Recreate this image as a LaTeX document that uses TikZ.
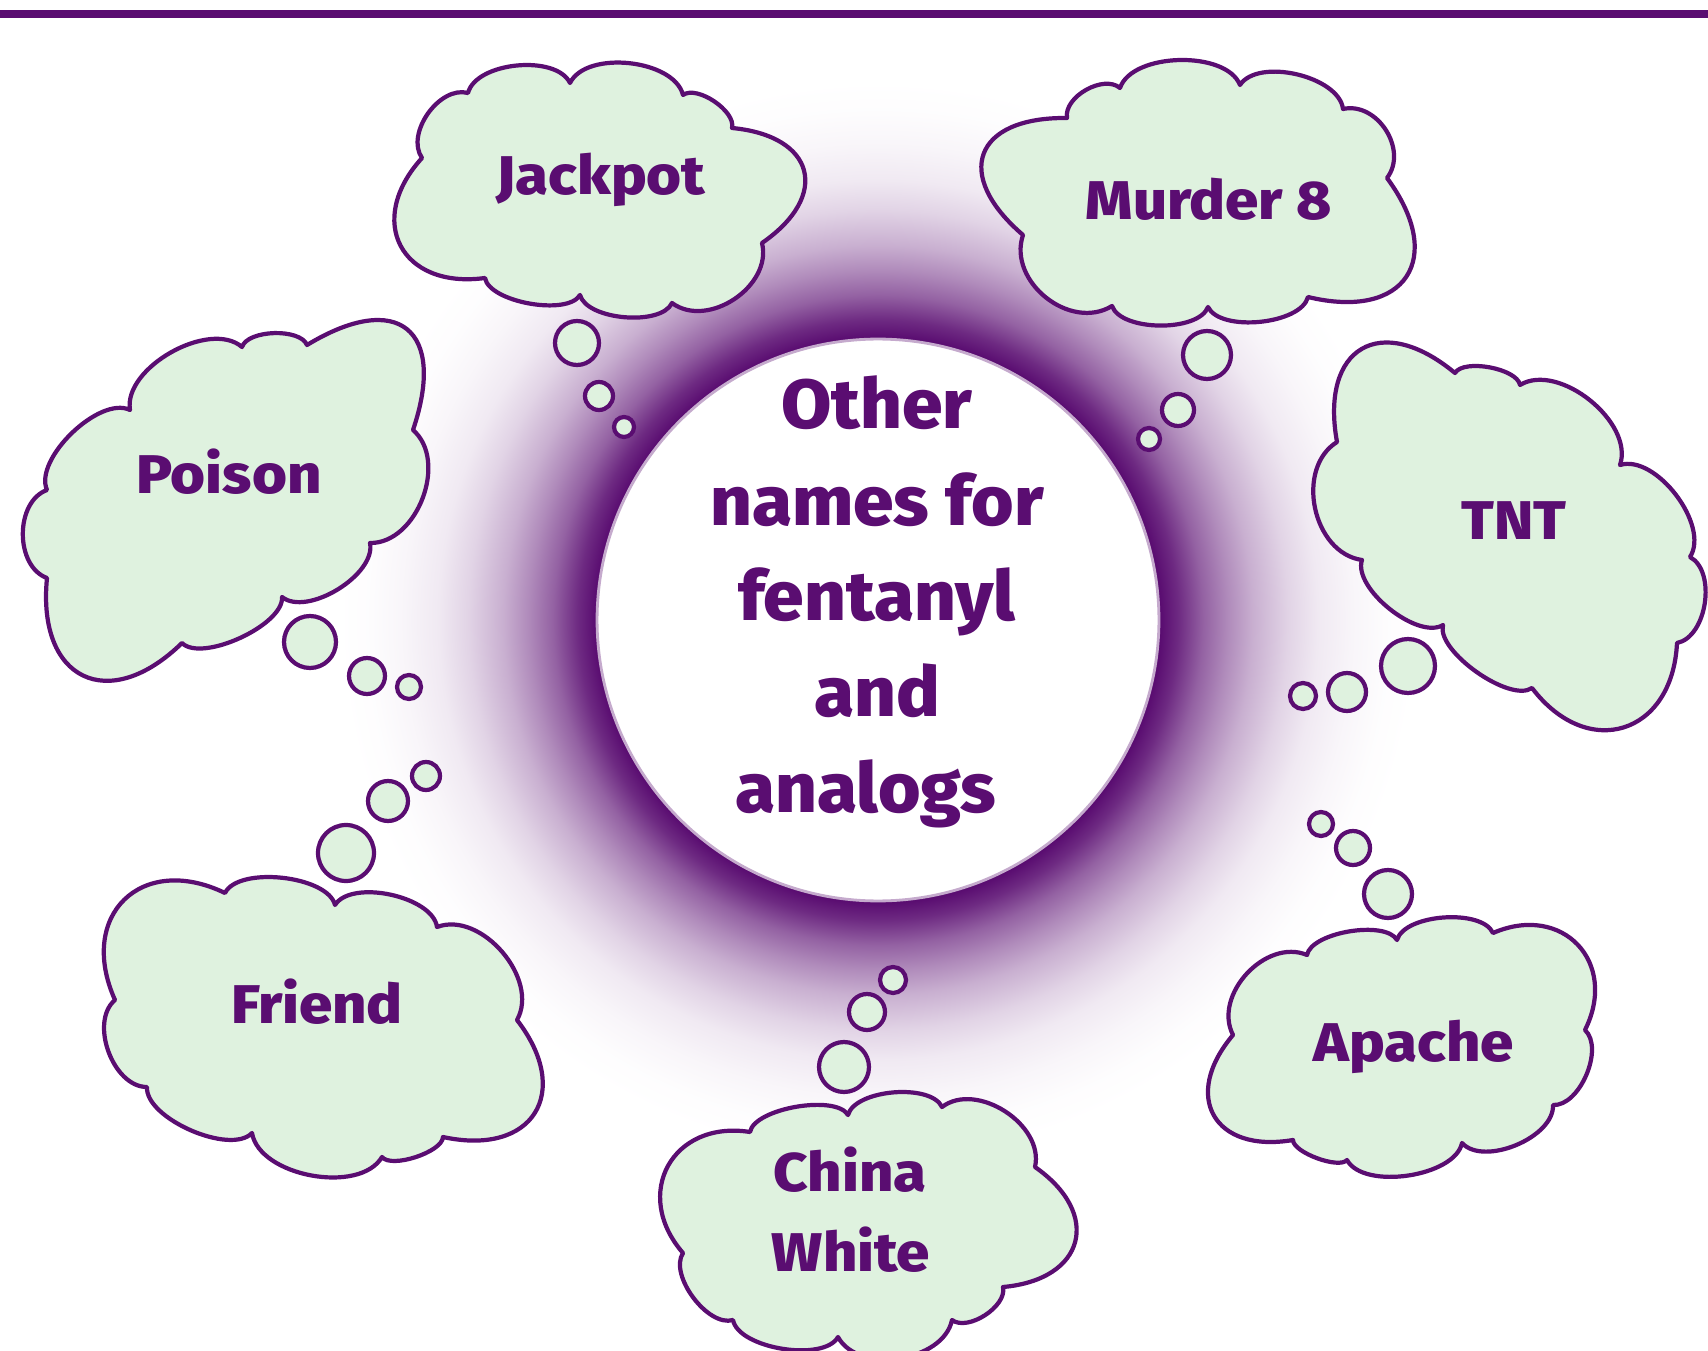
\documentclass[tikz,border=0pt]{standalone}
\usepackage{fontspec}
\setmainfont{Fira Sans}[BoldFont={Fira Sans ExtraBold}]
\newfontfamily\cloudfont{Fira Sans ExtraBold}[FakeStretch=1.1]
\newfontfamily\titlefont{Fira Sans ExtraBold}[FakeStretch=1.05]
\definecolor{fpurple}{RGB}{90,13,113}
\definecolor{cloudgreen}{RGB}{223,242,223}
% purple halo around the central disc, fading out to white
\pgfdeclareradialshading{haze}{\pgfpoint{0bp}{0bp}}{%
  color(0bp)=(fpurple); color(13.1bp)=(fpurple);
  color(13.9bp)=(fpurple!88!white); color(15.05bp)=(fpurple!65!white);
  color(16.2bp)=(fpurple!48!white); color(17.36bp)=(fpurple!33!white);
  color(18.98bp)=(fpurple!18!white); color(20.37bp)=(fpurple!9!white);
  color(22bp)=(fpurple!4!white); color(23.6bp)=(fpurple!1!white);
  color(25bp)=(white); color(50bp)=(white)}
\begin{document}
\begin{tikzpicture}[x=0.02cm, y=-0.02cm,
  pf/.style={bend left=70, looseness=#1},
  cloudline/.style={draw=fpurple, fill=cloudgreen, line width=2.4pt, line join=round},
  bubble/.style={circle, draw=fpurple, fill=cloudgreen, line width=2.4pt, inner sep=0pt, minimum size=#1},
  lbl/.style={font=\cloudfont\fontsize{31}{36}\selectfont, text=fpurple, anchor=base, inner sep=0pt},
  corelbl/.style={font=\titlefont\fontsize{39.5}{46}\selectfont, text=fpurple, anchor=base, inner sep=0pt}]
\clip (0,0) rectangle (1708,1351);
\fill[white] (0,0) rectangle (1708,1351);
% rule along the top
\fill[fpurple] (0,10) rectangle (1708,18);

% halo and central disc
\shade[shading=haze] (878,620) circle[radius=540];
\node[circle, fill=white, draw=fpurple!35!white, line width=1.6pt, inner sep=0pt, minimum size=11.24cm] (core) at (878,620) {};

% clouds
\draw[cloudline] (570,83) to[pf=0.83] (683,95) to[pf=0.75] (732,128) to[pf=1.8] (762,243)
  to[pf=1.05] (672,303) to[pf=0.72] (580,295) to[pf=0.65] (485,278) to[pf=1.6] (422,158)
  to[pf=0.95] (468,93) to[pf=0.8] cycle;
\draw[cloudline] (1240,85) to[pf=0.8] (1343,109) to[pf=1.1] (1387,178) to[pf=1.8] (1308,297)
  to[pf=0.72] (1208,307) to[pf=0.72] (1112,306) to[pf=1.1] (1023,235) to[pf=1.9] (1067,118)
  to[pf=0.9] (1120,88) to[pf=0.8] cycle;
\draw[cloudline] (242,347) to[pf=0.72] (307,345) to[pf=2.0] (413,430) to[pf=1.0] (370,543)
  to[pf=0.8] (282,597) to[pf=0.65] (182,643) to[pf=1.75] (47,578) to[pf=1.0] (47,490)
  to[pf=0.75] (130,410) to[pf=0.85] cycle;
\draw[cloudline] (1455,373) to[pf=0.65] (1520,385) to[pf=0.9] (1620,465) to[pf=0.83] (1690,557)
  to[pf=0.9] (1677,643) to[pf=1.55] (1532,688) to[pf=0.63] (1443,625) to[pf=0.73] (1362,560)
  to[pf=1.06] (1337,442) to[pf=1.8] cycle;
\draw[cloudline] (225,893) to[pf=0.7] (335,905) to[pf=0.76] (437,927) to[pf=0.98] (517,1020)
  to[pf=1.7] (443,1137) to[pf=0.6] (382,1157) to[pf=0.85] (252,1133) to[pf=0.7] (147,1087)
  to[pf=0.94] (115,1000) to[pf=1.55] cycle;
\draw[cloudline] (1397,940) to[pf=0.72] (1493,933) to[pf=1.45] (1585,1030) to[pf=0.84] (1553,1105)
  to[pf=0.84] (1462,1143) to[pf=0.76] (1347,1160) to[pf=0.55] (1293,1140) to[pf=1.7] (1233,1035)
  to[pf=1.05] (1307,955) to[pf=0.65] cycle;
\draw[cloudline] (848,1115) to[pf=0.72] (942,1107) to[pf=1.0] (1035,1167) to[pf=1.7] (1003,1287)
  to[pf=0.83] (952,1320) to[pf=0.95] (838,1337) to[pf=0.7] (733,1320) to[pf=0.8] (683,1253)
  to[pf=1.45] (750,1132) to[pf=0.62] cycle;

% thought bubbles
\node[bubble=0.88cm] (jb1) at (577,343) {};
\node[bubble=0.56cm] (jb2) at (599,396) {};
\node[bubble=0.40cm] (jb3) at (624,427) {};
\node[bubble=0.96cm] (mb1) at (1207,355) {};
\node[bubble=0.64cm] (mb2) at (1178,410) {};
\node[bubble=0.44cm] (mb3) at (1149,439) {};
\node[bubble=1.04cm] (pb1) at (310,642) {};
\node[bubble=0.72cm] (pb2) at (367,676) {};
\node[bubble=0.48cm] (pb3) at (409,687) {};
\node[bubble=1.08cm] (tb1) at (1408,666) {};
\node[bubble=0.76cm] (tb2) at (1347,692) {};
\node[bubble=0.52cm] (tb3) at (1303,696) {};
\node[bubble=1.12cm] (fb1) at (346,853) {};
\node[bubble=0.80cm] (fb2) at (388,801) {};
\node[bubble=0.56cm] (fb3) at (426,776) {};
\node[bubble=0.96cm] (ab1) at (1388,894) {};
\node[bubble=0.68cm] (ab2) at (1353,848) {};
\node[bubble=0.48cm] (ab3) at (1321,824) {};
\node[bubble=1.00cm] (cb1) at (844,1067) {};
\node[bubble=0.72cm] (cb2) at (867,1012) {};
\node[bubble=0.52cm] (cb3) at (893,980) {};

% central title
\node[corelbl] (t1) at (877,429) {Other};
\node[corelbl] (t2) at (877,525) {names for};
\node[corelbl] (t3) at (877,620) {fentanyl};
\node[corelbl] (t4) at (877,716) {and};
\node[corelbl] (t5) at (866,812) {analogs};

% cloud labels
\node[lbl] (jackpot) at (601,195) {Jackpot};
\node[lbl] (murder) at (1209,220) {Murder 8};
\node[lbl] (poison) at (229,494) {Poison};
\node[lbl] (tnt) at (1514,540) {TNT};
\node[lbl] (friend) at (317,1023) {Friend};
\node[lbl] (apache) at (1414,1061) {Apache};
\node[lbl] (china) at (850,1191) {China};
\node[lbl] (white) at (851,1271) {White};
\end{tikzpicture}
\end{document}
